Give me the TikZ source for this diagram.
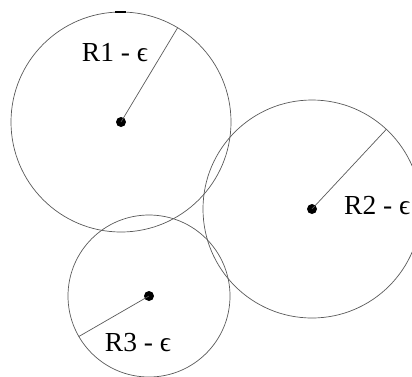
\documentclass[tikz,border=0pt]{standalone}
\usepackage{fontspec}
\setmainfont{Liberation Serif}
\begin{document}
\begin{tikzpicture}[x=1pt,y=-1pt,
  ring/.style={circle,draw=black!65,line width=0.7pt,inner sep=0pt,outer sep=0pt},
  ctr/.style={circle,fill=black,inner sep=0pt,minimum size=10pt},
  rad/.style={draw=black!65,line width=0.7pt},
  lbl/.style={inner sep=0pt,font=\fontsize{27.5}{30}\selectfont}]
\useasboundingbox (0,0) rectangle (412,376);
\node[ring,minimum size=220pt] (c1) at (121,122) {};
\node[ring,minimum size=218pt] (c2) at (312,209) {};
\node[ring,minimum size=162pt] (c3) at (149,296) {};
\node[ctr] (d1) at (121,122) {};
\node[ctr] (d2) at (312,209) {};
\node[ctr] (d3) at (149,296) {};
\draw[rad] (d1.center) -- (c1.59);
\draw[rad] (d2.center) -- (c2.47.6);
\draw[rad] (d3.center) -- (c3.210.7);
\node[lbl] (l1) at (115,53) {R1 - ϵ};
\node[lbl,anchor=west] (l2) at (344,206) {R2 - ϵ};
\node[lbl] (l3) at (138,343) {R3 - ϵ};
\coordinate (t1) at (115,12);
\coordinate (t2) at (126,12);
\draw[line width=1.8pt] (t1) -- (t2);
\end{tikzpicture}
\end{document}
